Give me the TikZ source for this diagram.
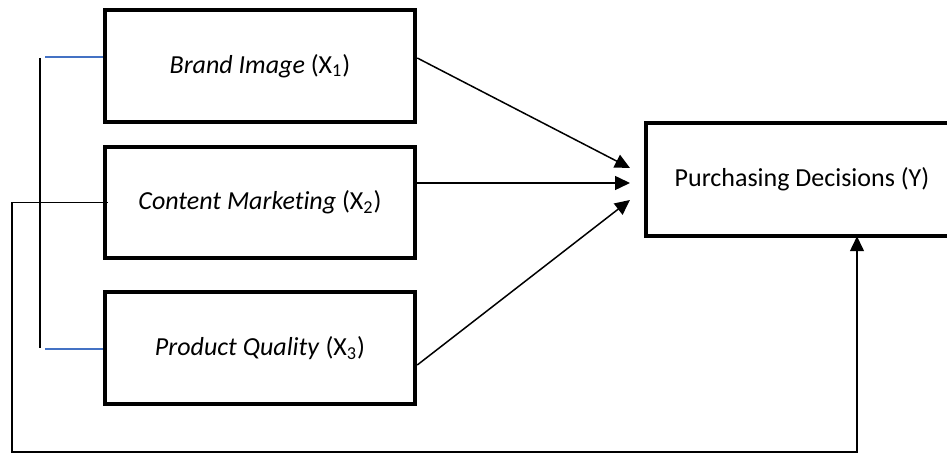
\documentclass[tikz,border=0pt]{standalone}
\usepackage{fontspec}
\setmainfont{Carlito}[Ligatures = NoCommon]
\usetikzlibrary{arrows.meta, calc}

\definecolor{linkblue}{RGB}{68, 114, 196}

\tikzset{
	varbox/.style = {draw, line width = 2.25pt, minimum width = 155pt, minimum height = 56pt, inner sep = 0pt, font = \fontsize{13}{15}\selectfont},
	link/.style = {line width = 0.75pt}
}

\begin{document}
\begin{tikzpicture}[x = 0.5pt, y = -0.5pt, > = {Triangle[length = 7.5pt, width = 7pt]}]

	\useasboundingbox (0, 0) rectangle (947, 453);

	% Independent variables
	
	\node [varbox] (bi) at (260, 66) {\textit{Brand Image} (X\textsubscript{1})};
	\node [varbox, minimum height = 55.5pt] (cm) at (260, 202.5) {\textit{Content Marketing} (X\textsubscript{2})};
	\node [varbox] (pq) at (260, 348) {\textit{Product Quality} (X\textsubscript{3})};
	
	% Dependent variable
	
	\node [varbox, minimum width = 156pt, minimum height = 56.5pt] (pd) at (802, 179.5) {Purchasing Decisions (Y)};
	
	% Arrow ends
	
	\coordinate (t1) at (630, 168);
	\coordinate (t2) at (630, 183);
	\coordinate (t3) at (630, 200);
	
	\draw [link, ->] ([yshift = 4pt] bi.east) -- (t1);
	\draw [link, ->] ([yshift = 9.75pt] cm.east) -- (t2);
	\draw [link, ->] ([yshift = -8.5pt] pq.east) -- (t3);
	
	% Bracket on the left
	
	\coordinate (br1) at (40, 58);
	\coordinate (br2) at (40, 348);
	\coordinate (b1) at (45, 57);
	\coordinate (b3) at (45, 349);
	
	\draw [link] (br1) -- (br2);
	\draw [link, linkblue] (b1) -- (bi.west |- b1);
	\draw [link, linkblue] (b3) -- (pq.west |- b3);
	
	% Simultaneous path
	
	\coordinate (fbl) at (12, 452);
	\coordinate (fbr) at (857, 452);
	
	\draw [link, ->, shorten > = -1pt] ([xshift = 2.5pt] cm.west) -- (fbl |- cm.west) -- (fbl) -- (fbr) -- (fbr |- pd.south);

\end{tikzpicture}
\end{document}
